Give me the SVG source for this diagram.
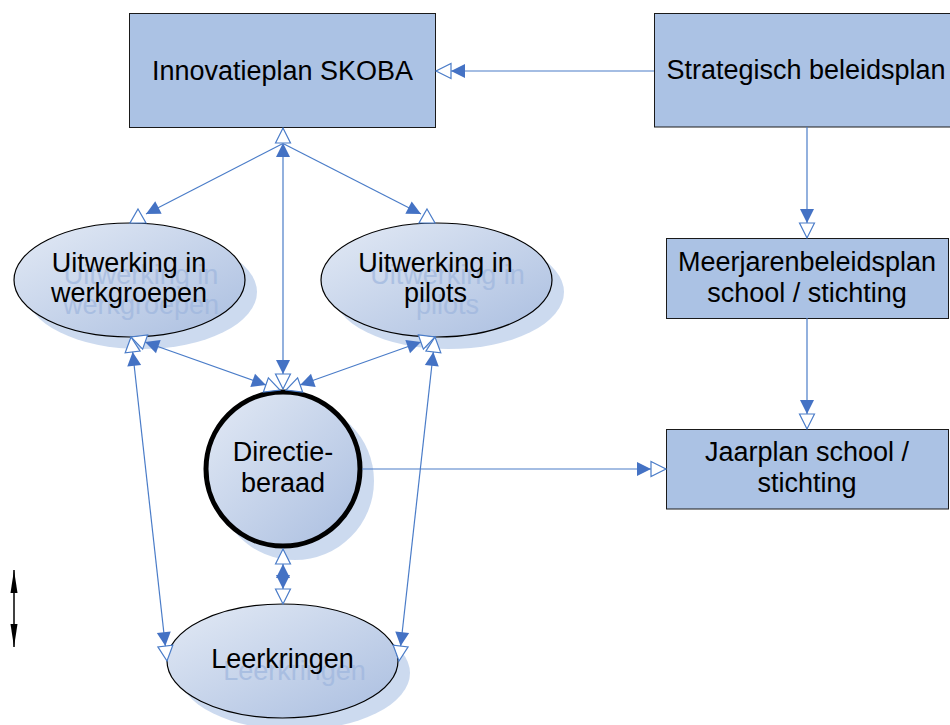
<svg xmlns="http://www.w3.org/2000/svg" width="950" height="725" viewBox="0 0 950 725">
<style>
.box{fill:#ABC2E4;stroke:#1a1a1a;stroke-width:1}
.ell{fill:url(#eg);stroke:#000;stroke-width:1.2}
.sh{fill:#C3D3EC;opacity:0.85}
.t{font-family:"Liberation Sans",Arial,sans-serif;font-size:27px;fill:#000;text-anchor:middle}
.ts{font-family:"Liberation Sans",Arial,sans-serif;font-size:27px;fill:#9EB6DE;opacity:0.7;text-anchor:middle}
.c{fill:none;stroke:#4A7CC8;stroke-width:1.2}
.hol{fill:#fff;stroke:#4A7CC8;stroke-width:1.2}
</style>
<defs>
<linearGradient id="eg" x1="0" y1="0" x2="1" y2="1">
<stop offset="0" stop-color="#E3EAF5"/>
<stop offset="1" stop-color="#AABEE0"/>
</linearGradient>
<marker id="dbl" markerUnits="userSpaceOnUse" viewBox="-31 -9 33 18" refX="0" refY="0" markerWidth="33" markerHeight="18" orient="auto-start-reverse">
<path d="M-29,-7 L-15,0 L-29,7 Z" fill="#4472C4"/>
<path d="M-15,-7.5 L0,0 L-15,7.5 Z" fill="#fff" stroke="#4A7CC8" stroke-width="1.2"/>
</marker>
<marker id="f" markerUnits="userSpaceOnUse" viewBox="-15 -8 16 16" refX="0" refY="0" markerWidth="16" markerHeight="16" orient="auto-start-reverse">
<path d="M-14,-7 L0,0 L-14,7 Z" fill="#4472C4"/>
</marker>
<marker id="blk" markerUnits="userSpaceOnUse" viewBox="-25 -5 26 10" refX="0" refY="0" markerWidth="26" markerHeight="10" orient="auto-start-reverse">
<path d="M-23,-3.5 L0,0 L-23,3.5 Z" fill="#000"/>
</marker>
</defs>
<rect width="950" height="725" fill="#fff"/>

<g id="innovatieplan">
<rect class="box" x="129.5" y="13.5" width="306" height="114"/>
<text class="t" x="282.5" y="80">Innovatieplan SKOBA</text>
</g>
<g id="strategisch">
<rect class="box" x="654.5" y="13.5" width="300" height="113.5"/>
<text class="t" x="806" y="79">Strategisch beleidsplan</text>
</g>
<g id="meerjaren">
<rect class="box" x="666.5" y="238.5" width="282" height="80"/>
<text class="t" x="807" y="271">Meerjarenbeleidsplan</text>
<text class="t" x="807" y="302">school / stichting</text>
</g>
<g id="jaarplan">
<rect class="box" x="666.5" y="429.5" width="282" height="79.5"/>
<text class="t" x="807" y="461">Jaarplan school /</text>
<text class="t" x="807" y="492">stichting</text>
</g>
<g id="werkgroepen">
<ellipse class="sh" cx="141.5" cy="292" rx="115.5" ry="57"/>
<ellipse class="ell" cx="129.5" cy="280" rx="115.5" ry="57"/>
<text class="ts" x="141" y="284">Uitwerking in</text>
<text class="ts" x="141" y="314">werkgroepen</text>
<text class="t" x="129" y="272">Uitwerking in</text>
<text class="t" x="129" y="302">werkgroepen</text>
</g>
<g id="pilots">
<ellipse class="sh" cx="448.5" cy="292" rx="115.5" ry="57"/>
<ellipse class="ell" cx="436.5" cy="280" rx="115.5" ry="57"/>
<text class="ts" x="447.5" y="284">Uitwerking in</text>
<text class="ts" x="447.5" y="314">pilots</text>
<text class="t" x="435.5" y="272">Uitwerking in</text>
<text class="t" x="435.5" y="302">pilots</text>
</g>
<g id="directieberaad">
<circle class="sh" cx="295" cy="481" r="79"/>
<circle cx="283" cy="469" r="77" fill="url(#eg)" stroke="#000" stroke-width="5"/>
<text class="t" x="283" y="461">Directie-</text>
<text class="t" x="283" y="492">beraad</text>
</g>
<g id="leerkringen">
<ellipse class="sh" cx="294.5" cy="673" rx="115.5" ry="57"/>
<ellipse class="ell" cx="282.5" cy="661" rx="115.5" ry="57"/>
<text class="ts" x="294.5" y="680">Leerkringen</text>
<text class="t" x="282.5" y="668">Leerkringen</text>
</g>

<g id="connectors">
<path class="c" d="M654,71 H436" marker-end="url(#dbl)"/>
<path class="c" d="M807,127 V238" marker-end="url(#dbl)"/>
<path class="c" d="M807,318 V429" marker-end="url(#dbl)"/>
<path class="c" d="M362,469 H666" marker-end="url(#dbl)"/>
<path class="c" d="M283,128 V389" marker-start="url(#dbl)" marker-end="url(#dbl)"/>
<path class="c" d="M282,144 L146,214" marker-end="url(#f)"/>
<path class="c" d="M284,144 L421,214" marker-end="url(#f)"/>
<polygon class="hol" points="138,209 146,223 130,223"/>
<polygon class="hol" points="427,209 435,223 419,223"/>
<path class="c" d="M131,337 L280,390" marker-start="url(#dbl)" marker-end="url(#dbl)"/>
<path class="c" d="M435,337 L286,390" marker-start="url(#dbl)" marker-end="url(#dbl)"/>
<path class="c" d="M131,337 L167,661" marker-start="url(#dbl)" marker-end="url(#dbl)"/>
<path class="c" d="M435,337 L399,661" marker-start="url(#dbl)" marker-end="url(#dbl)"/>
<path class="c" d="M283,549 V604" marker-start="url(#dbl)" marker-end="url(#dbl)"/>
<path d="M14,570 V647" stroke="#000" stroke-width="1.5" marker-start="url(#blk)" marker-end="url(#blk)"/>
</g>
</svg>
